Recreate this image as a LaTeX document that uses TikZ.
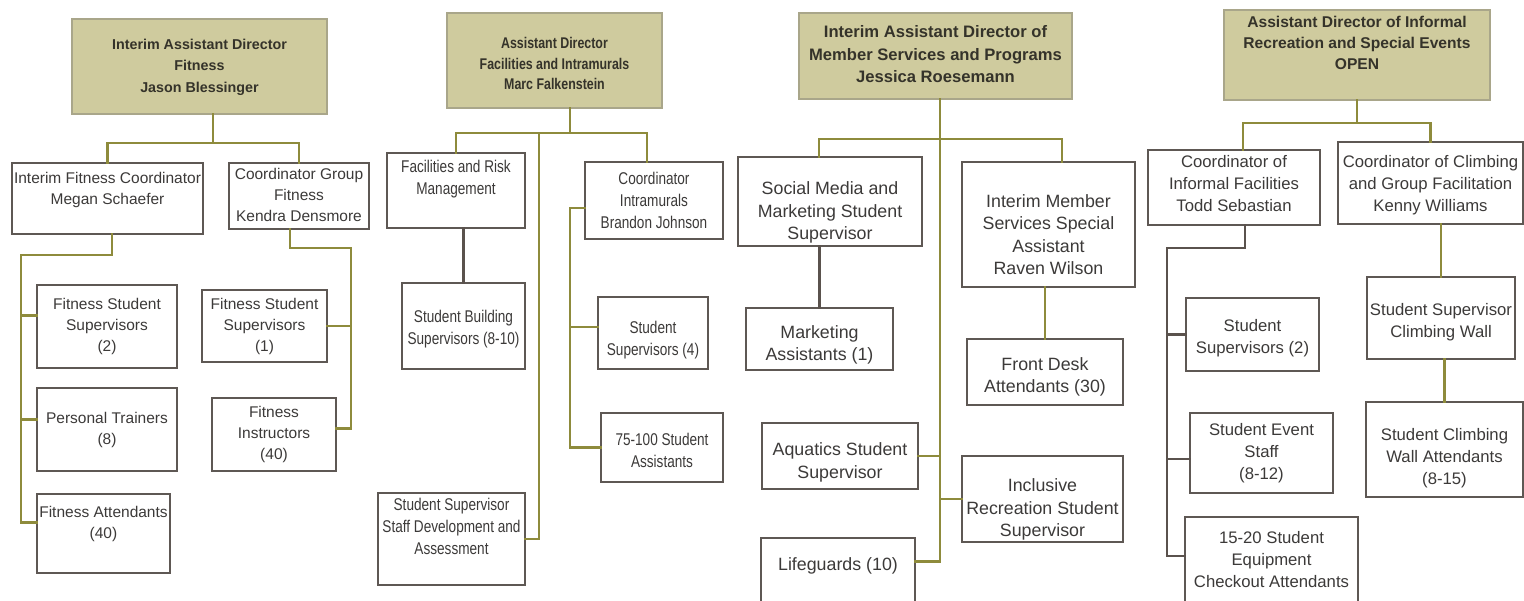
\documentclass[tikz,border=0pt]{standalone}
\usepackage{fontspec}
\setmainfont{Liberation Sans}
\newfontfamily\condf[FakeStretch=0.8]{Liberation Sans}
\definecolor{boxc}{HTML}{5E5854}
\definecolor{txtc}{HTML}{3C3A39}
\definecolor{khaki}{HTML}{CFCB9E}
\definecolor{khakib}{HTML}{A9A68A}
\definecolor{toptxt}{HTML}{35332A}
\definecolor{olivec}{HTML}{8E8B3C}
\definecolor{darkc}{HTML}{5A524D}
\newcommand\tx[2]{\raisebox{#1}[\height][\depth]{\begin{tabular}{@{}c@{}}#2\end{tabular}}}
\newcommand\bx[7][]{\node[#1,minimum width={(#5-#3)*1pt},minimum height={(#6-#4)*1pt}] (#2) at ({(#3+#5)/2},{(#4+#6)/2}) {#7};}
\tikzset{
  box/.style={draw=boxc, line width=1.5pt, fill=white, inner sep=0pt, outer sep=0pt, text=txtc},
  topbox/.style={box, fill=khaki, draw=khakib, text=toptxt},
  fA/.style={font=\fontsize{15.5pt}{21pt}\selectfont},
  fAt/.style={font=\fontsize{14.3pt}{21.5pt}\selectfont\bfseries},
  fB/.style={font=\condf\fontsize{17pt}{22pt}\selectfont},
  fBt/.style={font=\condf\fontsize{15.5pt}{20.5pt}\selectfont\bfseries},
  fC/.style={font=\fontsize{17.8pt}{22.5pt}\selectfont},
  fCt/.style={font=\fontsize{16.6pt}{22.5pt}\selectfont\bfseries},
  fD/.style={font=\fontsize{16.7pt}{22pt}\selectfont},
  fDt/.style={font=\fontsize{15.6pt}{21pt}\selectfont\bfseries},
  conn/.style={draw=olivec, line width=2.4pt, line cap=rect},
  connd/.style={draw=darkc, line width=2.4pt, line cap=rect},
}
\begin{document}
\begin{tikzpicture}[x=1pt,y=-1pt]
\useasboundingbox (0,0) rectangle (1524,601);
\fill[white] (0,0) rectangle (1524,601);
\clip (0,0) rectangle (1524,601);
% ---------- column 1 ----------
\bx[topbox,fAt]{t1}{72}{19}{327}{114}{\tx{0pt}{Interim Assistant Director\\Fitness\\Jason Blessinger}}
\bx[box,fA]{c11}{12}{163}{203}{234}{\tx{9pt}{Interim Fitness Coordinator\\Megan Schaefer}}
\bx[box,fA]{c12}{229}{163}{369}{229}{\tx{0pt}{Coordinator Group\\Fitness\\Kendra Densmore}}
\bx[box,fA]{f1}{37}{285}{177}{368}{\tx{0pt}{Fitness Student\\Supervisors\\(2)}}
\bx[box,fA]{f2}{37}{388}{177}{471}{\tx{0pt}{Personal Trainers\\(8)}}
\bx[box,fA]{f3}{37}{494}{170}{573}{\tx{10pt}{Fitness Attendants\\(40)}}
\bx[box,fA]{g1}{202}{290}{327}{362}{\tx{0pt}{Fitness Student\\Supervisors\\(1)}}
\bx[box,fA]{g2}{212}{398}{336}{471}{\tx{0pt}{Fitness\\Instructors\\(40)}}
% ---------- column 2 ----------
\bx[topbox,fBt]{t2}{447}{13}{662}{108}{\tx{-4.5pt}{Assistant Director\\Facilities and Intramurals\\Marc Falkenstein}}
\bx[box,fB]{c21}{387}{153}{525}{228}{\tx{11pt}{Facilities and Risk\\Management}}
\bx[box,fB]{c22}{585}{162}{723}{239}{\tx{-2pt}{Coordinator\\Intramurals\\Brandon Johnson}}
\bx[box,fB]{s1}{402}{283}{525}{369}{\tx{-3pt}{Student Building\\Supervisors (8-10)}}
\bx[box,fB]{s2}{378}{493}{525}{585}{\tx{11pt}{Student Supervisor\\Staff Development and\\Assessment}}
\bx[box,fB]{s3}{598}{297}{708}{369}{\tx{-7pt}{Student\\Supervisors (4)}}
\bx[box,fB]{s4}{601}{413}{723}{482}{\tx{-5pt}{75-100 Student\\Assistants}}
% ---------- column 3 ----------
\bx[topbox,fCt]{t3}{799}{13}{1072}{99}{\tx{0pt}{Interim Assistant Director of\\Member Services and Programs\\Jessica Roesemann}}
\bx[box,fC]{c31}{738}{157}{922}{246}{\tx{-11.5pt}{Social Media and\\Marketing Student\\Supervisor}}
\bx[box,fC]{c32}{962}{162}{1135}{287}{\tx{-12pt}{Interim Member\\Services Special\\Assistant\\Raven Wilson}}
\bx[box,fC]{m1}{746}{308}{893}{370}{\tx{-6pt}{Marketing\\Assistants (1)}}
\bx[box,fC]{fd}{967}{339}{1123}{405}{\tx{-5pt}{Front Desk\\Attendants (30)}}
\bx[box,fC]{aq}{762}{423}{918}{489}{\tx{-6.5pt}{Aquatics Student\\Supervisor}}
\bx[box,fC]{inc}{962}{456}{1123}{542}{\tx{-11pt}{Inclusive\\Recreation Student\\Supervisor}}
\bx[box,fC]{lg}{761}{538}{915}{605}{\tx{5.5pt}{Lifeguards (10)}}
% ---------- column 4 ----------
\bx[topbox,fDt]{t4}{1224}{10}{1490}{100}{\tx{11pt}{Assistant Director of Informal\\Recreation and Special Events\\OPEN}}
\bx[box,fD]{c41}{1148}{150}{1320}{225}{\tx{2pt}{Coordinator of\\Informal Facilities\\Todd Sebastian}}
\bx[box,fD]{c42}{1338}{142}{1523}{224}{\tx{-2pt}{Coordinator of Climbing\\and Group Facilitation\\Kenny Williams}}
\bx[box,fD]{ss2}{1186}{298}{1319}{371}{\tx{-4pt}{Student\\Supervisors (2)}}
\bx[box,fD]{es}{1190}{413}{1333}{493}{\tx{0pt}{Student Event\\Staff\\(8-12)}}
\bx[box,fD]{eq}{1185}{517}{1358}{605}{\tx{0pt}{15-20 Student\\Equipment\\Checkout Attendants}}
\bx[box,fD]{sc}{1367}{277}{1515}{359}{\tx{-4pt}{Student Supervisor\\Climbing Wall}}
\bx[box,fD]{sa}{1366}{402}{1523}{497}{\tx{-9pt}{Student Climbing\\Wall Attendants\\(8-15)}}
% ---------- connectors column 1 ----------
\draw[conn] ([xshift=13.5pt]t1.south) -- ++(0,29) coordinate (b1);
\draw[conn] (c11.north) |- (b1) -| (c12.north);
\coordinate (v11) at (21,255);
\coordinate (f1j) at ([yshift=11pt]f1.west);
\coordinate (f2j) at ([yshift=10pt]f2.west);
\coordinate (f3j) at ([yshift=11pt]f3.west);
\draw[conn] ([xshift=4.5pt]c11.south) |- (v11) |- (f3j);
\draw[conn] (v11 |- f1j) -- (f1j);
\draw[conn] (v11 |- f2j) -- (f2j);
\coordinate (v12) at (351,248);
\coordinate (g2j) at ([yshift=6pt]g2.east);
\draw[conn] ([xshift=-9pt]c12.south) |- (v12) |- (g2j);
\draw[conn] (v12 |- g1.east) -- (g1.east);
% ---------- connectors column 2 ----------
\draw[conn] ([xshift=15.5pt]t2.south) -- ++(0,25) coordinate (b2);
\draw[conn] (c21.north) |- (b2) -| ([xshift=-7pt]c22.north);
\coordinate (v2) at (539,133);
\draw[conn] (v2) |- (s2.east);
\draw[connd] (c21.south -| s1.north) -- (s1.north);
\coordinate (c22j) at ([yshift=-7.5pt]c22.west);
\coordinate (v22) at (570,0);
\coordinate (s3j) at ([yshift=6pt]s3.west);
\draw[conn] (c22j) -| (v22 |- s4.west) -- (s4.west);
\draw[conn] (v22 |- s3j) -- (s3j);
% ---------- connectors column 3 ----------
\coordinate (v3) at (940,0);
\coordinate (b3) at (940,139);
\coordinate (lgj) at ([yshift=10pt]lg.east);
\draw[conn] (v3 |- t3.south) -- (v3 |- lgj) -- (lgj);
\draw[conn] ([xshift=-11pt]c31.north) |- (b3) -| ([xshift=13.5pt]c32.north);
\draw[connd] (m1.north |- c31.south) -- (m1.north);
\draw[conn] (fd.north |- c32.south) -- (fd.north);
\draw[conn] (v3 |- aq.east) -- (aq.east);
\draw[conn] (v3 |- inc.west) -- (inc.west);
% ---------- connectors column 4 ----------
\draw[conn] (t4.south) -- ++(0,23) coordinate (b4);
\draw[conn] ([xshift=9pt]c41.north) |- (b4) -| (c42.north);
\coordinate (v4) at (1167,248);
\coordinate (eqj) at ([yshift=5pt]eq.west);
\coordinate (esj) at ([yshift=-6pt]es.west);
\draw[connd] ([xshift=11pt]c41.south) |- (v4) |- (eqj);
\draw[connd] (v4 |- ss2.west) -- (ss2.west);
\draw[connd] (v4 |- esj) -- (esj);
\draw[conn] (sc.north |- c42.south) -- (sc.north);
\draw[conn] (sa.north |- sc.south) -- (sa.north);
\end{tikzpicture}
\end{document}
